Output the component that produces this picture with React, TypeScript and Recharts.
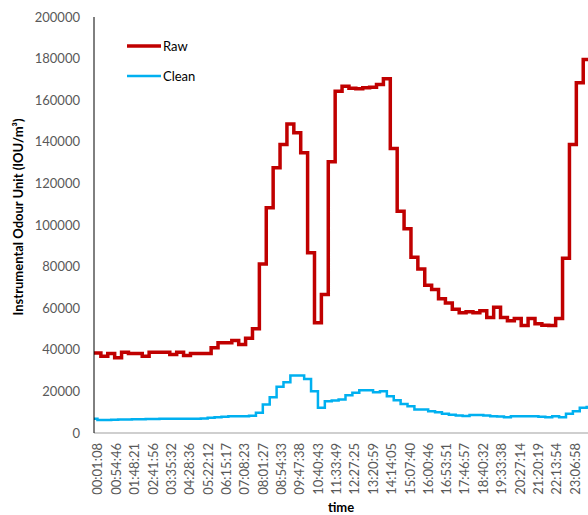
import React from 'react';
import { LineChart, Line, XAxis, YAxis, Legend, Label } from 'recharts';

// x-axis labels as printed under the chart
const timeLabels = [
  '00:01:08', '00:54:46', '01:48:21', '02:41:56', '03:35:32', '04:28:36', '05:22:12',
  '06:15:17', '07:08:23', '08:01:27', '08:54:33', '09:47:38', '10:40:43', '11:33:49',
  '12:27:25', '13:20:59', '14:14:05', '15:07:40', '16:00:46', '16:53:51', '17:46:57',
  '18:40:32', '19:33:38', '20:27:14', '21:20:19', '22:13:54', '23:06:58',
];

// one value per 20 min sample
const rawValues = [
  38500, 36900, 38200, 36200, 38800, 38200, 38200, 36900, 38800, 38800,
  38800, 37700, 38800, 37300, 38200, 38200, 38200, 41000, 43400, 43400,
  44500, 42500, 45500, 50100, 81300, 108300, 127500, 138700, 148600, 144300,
  134700, 86600, 53000, 66600, 130400, 164300, 166700, 165800, 165500, 166000,
  166200, 167500, 170300, 136800, 106600, 98200, 84500, 78900, 71000, 69000,
  64500, 62500, 59500, 57800, 58300, 57800, 58800, 55500, 60500, 55500,
  54000, 55000, 51700, 55000, 52500, 51800, 51700, 55000, 84000, 138700,
  168400, 179600, 179600,
];

const cleanValues = [
  6800, 6300, 6300, 6400, 6500, 6500, 6600, 6600, 6700, 6700,
  6800, 6800, 6900, 6900, 6800, 6900, 7000, 7300, 7600, 7800,
  8000, 8100, 8100, 8300, 9700, 13700, 17200, 22200, 24400, 27600,
  27600, 26000, 20100, 12100, 15300, 15600, 16100, 18200, 19300, 20600,
  20600, 19600, 20100, 17700, 15800, 14000, 12900, 11300, 11300, 10500,
  10000, 9200, 8800, 8400, 8200, 8600, 8600, 8400, 8100, 7900,
  7600, 8100, 8100, 8100, 8100, 7800, 7600, 8100, 7600, 9200,
  10500, 12100, 12500,
];

const seriesNames = ['Raw', 'Clean'];

const yTicks = [0, 20000, 40000, 60000, 80000, 100000, 120000, 140000, 160000, 180000, 200000];

const SAMPLE_STEP_MIN = 20;
const VIEW_END_MIN = 1435;

const toMinutes = (s: string) => {
  const [h, m, sec] = s.split(':').map(Number);
  return h * 60 + m + sec / 60;
};

const t0 = toMinutes(timeLabels[0]);
const chartData = rawValues.map((raw, i) => ({
  t: t0 + i * SAMPLE_STEP_MIN,
  raw,
  clean: cleanValues[i],
}));
const tickValues = timeLabels.map(toMinutes);
const labelFor = (v: number) => {
  const idx = tickValues.findIndex((x) => Math.abs(x - v) < 0.01);
  return idx >= 0 ? timeLabels[idx] : '';
};

const renderLegend = (props: any) => {
  const items = [...(props.payload || [])].sort(
    (a: any, b: any) => seriesNames.indexOf(a.value) - seriesNames.indexOf(b.value)
  );
  return (
    <div>
      {items.map((entry: any) => (
        <div key={entry.value} style={{ display: 'flex', alignItems: 'center', height: 30 }}>
          <svg width={34} height={8}>
            <line x1={0} y1={4} x2={34} y2={4} stroke={entry.color}
              strokeWidth={entry.value === 'Raw' ? 3.5 : 2.5} />
          </svg>
          <span style={{ marginLeft: 2, fontSize: 13, color: '#000' }}>{entry.value}</span>
        </div>
      ))}
    </div>
  );
};

const YTitle = (props: any) => {
  const { x, y, height } = props.viewBox;
  const cx = x + 18;
  const cy = y + height / 2 - 8;
  return (
    <text x={cx} y={cy} transform={`rotate(-90 ${cx} ${cy})`} textAnchor="middle"
      dominantBaseline="central" style={{ fontWeight: 700, fontSize: 13, fill: '#000' }}>
      Instrumental Odour Unit (IOU/m³)
    </text>
  );
};

const App = () => (
  <div style={{ position: 'fixed', left: 0, top: 0, width: 588, height: 515, overflow: 'hidden', background: '#fff', fontFamily: 'Lato' }}>
    <LineChart width={588} height={515} data={chartData} margin={{ top: 17, right: 0, bottom: 0, left: 0 }}>
      <XAxis
        dataKey="t"
        type="number"
        domain={[t0, VIEW_END_MIN]}
        allowDataOverflow
        ticks={tickValues}
        interval={0}
        tickFormatter={labelFor}
        angle={-90}
        height={82}
        tickLine={false}
        tickMargin={4}
        tick={{ fill: '#595959', fontSize: 13, textAnchor: 'end', dx: -1 }}
        axisLine={{ stroke: '#bfbfbf', strokeWidth: 1.5 }}
      >
        <Label value="time" position="insideBottom" offset={3} style={{ fontWeight: 700, fontSize: 13, fill: '#000' }} />
      </XAxis>
      <YAxis
        width={94}
        domain={[0, 200000]}
        ticks={yTicks}
        interval={0}
        tickLine={false}
        tickMargin={8}
        axisLine={{ stroke: '#000' }}
        tick={{ fill: '#595959', fontSize: 13 }}
      >
        <Label content={YTitle} />
      </YAxis>
      <Legend
        layout="vertical"
        align="center"
        verticalAlign="middle"
        content={renderLegend}
        wrapperStyle={{ left: 127, top: 31, width: 'auto' }}
      />
      <Line dataKey="raw" name="Raw" type="stepAfter" stroke="#C00000" strokeWidth={3.5} dot={false} isAnimationActive={false} />
      <Line dataKey="clean" name="Clean" type="step" stroke="#00B0F0" strokeWidth={2.5} dot={false} isAnimationActive={false} />
    </LineChart>
  </div>
);

export default App;
